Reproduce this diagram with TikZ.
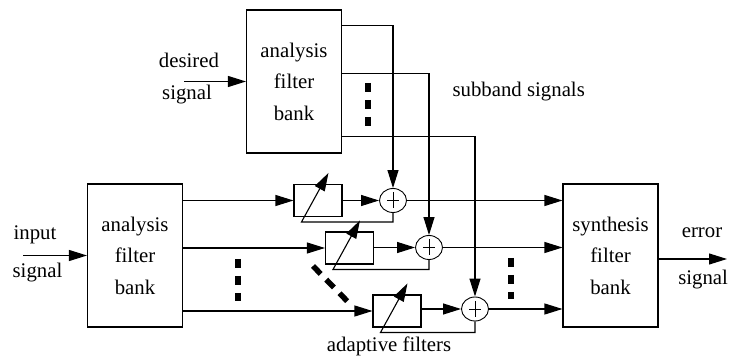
\documentclass[tikz,border=0pt]{standalone}
\usepackage{fontspec}
\setmainfont{Liberation Serif}
\usetikzlibrary{shapes.geometric,arrows.meta,positioning,calc}

\begin{document}
\begin{tikzpicture}[x=1pt,y=-1pt,line width=1.1pt,
    font=\fontsize{20.8}{31.5}\selectfont,
    bank/.style={draw,minimum width=95pt,minimum height=143pt,
                 align=center,inner sep=0pt},
    filt/.style={draw,minimum width=48pt,minimum height=32pt,inner sep=0pt},
    adder/.style={draw,ellipse,minimum width=27pt,minimum height=24pt,
                  inner sep=0pt,line width=0.9pt,
                  path picture={\draw[line width=0.8pt] (path picture bounding box.center)
                     +(-6,0) -- +(6,0) +(0,-8) -- +(0,8);}},
    arr/.style={-{Triangle[length=18pt,width=11pt]}},
    txt/.style={inner sep=0pt,anchor=base},
    bankdots/.style={line width=6pt,dash pattern=on 9pt off 8pt},
    morefilt/.style={line width=5.5pt,dash pattern=on 11pt off 8pt}]
    \useasboundingbox (0,0) rectangle (729,358);
    % filter banks
    \node[bank] (up)  at (294,81.5)  {analysis\\filter\\bank};
    \node[bank] (lo)  at (135,255.5) {analysis\\filter\\bank};
    \node[bank] (syn) at (610.5,255.5) {synthesis\\filter\\bank};
    % adaptive filters and adders
    \node[filt] (f1) at (318,200.5) {};
    \node[filt] (f2) at (349.5,248) {};
    \node[filt] (f3) at (397,311) {};
    \node[adder] (a1) at (393,200.5) {};
    \node[adder] (a2) at (429,247.5) {};
    \node[adder] (a3) at (475,309) {};
    % signals in and out
    \coordinate (dsig) at (184,81.5);
    \coordinate (insig) at (23,255.5);
    \coordinate (esig) at (727,259);
    \draw[arr] (dsig) -- (up.west);
    \draw[arr] (insig) -- (lo.west);
    \draw[arr] (syn.east |- esig) -- (esig);
    % subband signals of the desired signal
    \coordinate (u1) at ($(up.north east)+(0,16)$);
    \coordinate (u2) at ($(up.north east)+(0,64)$);
    \coordinate (u3) at ($(up.north east)+(0,127)$);
    \foreach \i in {1,2,3}
      \draw[arr] (u\i) -| (a\i.north);
    % subband signals of the input
    \foreach \i in {1,2,3} {
      \draw[arr] (lo.east |- f\i) -- (f\i.west);
      \draw[arr] (f\i.east |- a\i) -- (a\i.west);
      \draw[arr] (a\i.east) -- (a\i.east -| syn.west);
      \coordinate (fb\i) at ($(f\i.south west)+(8,5)$);
      \coordinate (tip\i) at ($(f\i.north west)+(35,-11)$);
      \draw[arr] (a\i.south) |- (fb\i) -- (tip\i);
    }
    % dots
    \draw[bankdots] (368,83) -- (368,127);
    \draw[bankdots] (238,259) -- (238,301);
    \draw[bankdots] (511,258) -- (511,299);
    \draw[morefilt] (313,266) -- (349,303);
    % labels
    \node[txt] (desired) at (189,68) {desired};
    \node[txt] (dsignal) at (187,100) {signal};
    \node[txt] (input) at (35,240) {input};
    \node[txt] (isignal) at (37.5,278) {signal};
    \node[txt] (error) at (702,238) {error};
    \node[txt,anchor=base east] (esignal) at (728.5,285) {signal};
    \node[txt,anchor=base west] (subband) at (452,97) {subband signals};
    \node[txt] (adaptive) at (389,351.5) {adaptive filters};
\end{tikzpicture}
\end{document}
